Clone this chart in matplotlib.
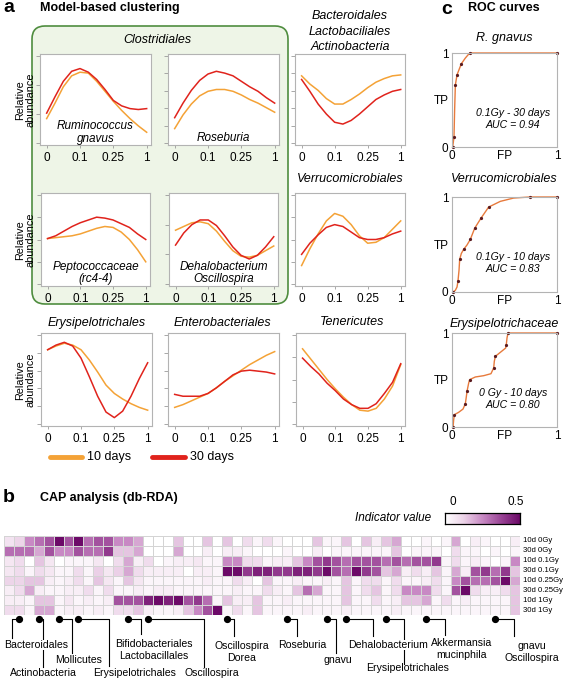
import matplotlib
matplotlib.use('Agg')
import matplotlib.pyplot as plt
import numpy as np
from matplotlib.patches import FancyBboxPatch
from matplotlib.colors import LinearSegmentedColormap
import matplotlib.transforms as mtransforms

plt.rcParams['font.family'] = ['Liberation Sans', 'DejaVu Sans']

# ---------------- data ----------------
curve_x = [0, 0.25, 0.5, 0.75, 1, 1.25, 1.5, 1.75, 2, 2.25, 2.5, 2.75, 3]
tick_labels = ['0', '0.1', '0.25', '1']

rum_10 = [0.29, 0.46, 0.64, 0.76, 0.80, 0.79, 0.70, 0.59, 0.48, 0.38, 0.29, 0.21, 0.14]
rum_30 = [0.35, 0.53, 0.70, 0.81, 0.84, 0.80, 0.72, 0.61, 0.49, 0.43, 0.40, 0.39, 0.40]
ros_10 = [0.18, 0.33, 0.45, 0.54, 0.59, 0.61, 0.61, 0.59, 0.55, 0.50, 0.46, 0.41, 0.36]
ros_30 = [0.30, 0.46, 0.60, 0.71, 0.78, 0.81, 0.79, 0.76, 0.70, 0.64, 0.59, 0.52, 0.46]
bac_10 = [0.76, 0.67, 0.60, 0.51, 0.45, 0.45, 0.50, 0.56, 0.63, 0.69, 0.73, 0.76, 0.77]
bac_30 = [0.72, 0.59, 0.45, 0.34, 0.25, 0.23, 0.27, 0.34, 0.42, 0.50, 0.55, 0.59, 0.61]
pep_10 = [0.51, 0.52, 0.53, 0.54, 0.56, 0.59, 0.62, 0.64, 0.63, 0.58, 0.50, 0.39, 0.26]
pep_30 = [0.51, 0.54, 0.59, 0.64, 0.68, 0.71, 0.74, 0.73, 0.71, 0.67, 0.63, 0.56, 0.50]
deh_10 = [0.60, 0.64, 0.68, 0.69, 0.67, 0.59, 0.48, 0.38, 0.32, 0.31, 0.33, 0.38, 0.43]
deh_30 = [0.44, 0.57, 0.66, 0.71, 0.71, 0.65, 0.54, 0.42, 0.33, 0.29, 0.33, 0.42, 0.53]
ver_10 = [0.22, 0.40, 0.56, 0.70, 0.78, 0.75, 0.66, 0.54, 0.46, 0.47, 0.52, 0.61, 0.70]
ver_30 = [0.34, 0.46, 0.55, 0.63, 0.66, 0.64, 0.58, 0.52, 0.50, 0.50, 0.52, 0.56, 0.59]
ery_10 = [0.82, 0.86, 0.89, 0.87, 0.82, 0.71, 0.58, 0.44, 0.35, 0.29, 0.24, 0.20, 0.17]
ery_30 = [0.82, 0.87, 0.90, 0.86, 0.73, 0.53, 0.32, 0.15, 0.09, 0.16, 0.32, 0.51, 0.68]
ent_10 = [0.20, 0.23, 0.27, 0.31, 0.35, 0.41, 0.48, 0.54, 0.60, 0.66, 0.71, 0.76, 0.80]
ent_30 = [0.34, 0.32, 0.32, 0.32, 0.35, 0.41, 0.48, 0.55, 0.59, 0.60, 0.59, 0.58, 0.56]
ten_10 = [0.83, 0.72, 0.61, 0.50, 0.40, 0.31, 0.23, 0.17, 0.16, 0.19, 0.29, 0.43, 0.66]
ten_30 = [0.73, 0.64, 0.56, 0.46, 0.38, 0.29, 0.23, 0.19, 0.19, 0.24, 0.35, 0.47, 0.67]

roc1_fp = [0.006, 0.013, 0.019, 0.025, 0.032, 0.048, 0.089, 0.127, 0.168, 1.0]
roc1_tp = [0.0, 0.054, 0.107, 0.393, 0.661, 0.768, 0.886, 0.946, 1.0, 1.0]
roc1_dot_fp = [0.006, 0.019, 0.032, 0.048, 0.089, 0.168, 1.0]
roc1_dot_tp = [0.0, 0.107, 0.661, 0.768, 0.886, 1.0, 1.0]

roc2_fp = [0.010, 0.032, 0.048, 0.057, 0.067, 0.073, 0.089, 0.111, 0.143, 0.175, 0.216, 0.276, 0.349, 0.460, 0.587, 0.740, 1.0]
roc2_tp = [0.0, 0.018, 0.053, 0.117, 0.230, 0.343, 0.406, 0.449, 0.495, 0.555, 0.671, 0.777, 0.894, 0.954, 0.989, 1.0, 1.0]
roc2_dot_fp = [0.010, 0.057, 0.073, 0.111, 0.175, 0.216, 0.276, 0.349, 0.740, 1.0]
roc2_dot_tp = [0.0, 0.117, 0.343, 0.449, 0.555, 0.671, 0.777, 0.894, 1.0, 1.0]

roc3_fp = [0.010, 0.016, 0.022, 0.063, 0.105, 0.127, 0.137, 0.143, 0.159, 0.168, 0.222, 0.302, 0.371, 0.397, 0.403, 0.413, 0.460, 0.511, 0.517, 0.524, 0.533, 1.0]
roc3_tp = [0.0, 0.078, 0.131, 0.156, 0.191, 0.248, 0.326, 0.379, 0.468, 0.504, 0.532, 0.546, 0.567, 0.628, 0.699, 0.752, 0.794, 0.840, 0.876, 0.947, 1.0, 1.0]
roc3_dot_fp = [0.010, 0.022, 0.127, 0.143, 0.168, 0.397, 0.413, 0.517, 0.533, 1.0]
roc3_dot_tp = [0.0, 0.131, 0.248, 0.379, 0.504, 0.628, 0.752, 0.876, 1.0, 1.0]

row_labels = ['10d 0Gy', '30d 0Gy', '10d 0.1Gy', '30d 0.1Gy',
              '10d 0.25Gy', '30d 0.25Gy', '10d 1Gy', '30d 1Gy']
iv_10d_0Gy = [0.08, 0.12, 0.25, 0.30, 0.35, 0.50, 0.35, 0.50, 0.30, 0.35, 0.35, 0.25, 0.25, 0.20, 0.0, 0.0, 0.0,
              0.15, 0.0, 0.0, 0.15, 0.0, 0.15, 0.0, 0.10, 0.03, 0.10, 0.03, 0.0, 0.0, 0.0, 0.15,
              0.03, 0.03, 0.15, 0.0, 0.15, 0.05, 0.15, 0.20, 0.0, 0.0, 0.03, 0.0, 0.03, 0.20, 0.0,
              0.05, 0.03, 0.0, 0.0, 0.05]
iv_30d_0Gy = [0.30, 0.30, 0.30, 0.20, 0.35, 0.25, 0.25, 0.35, 0.30, 0.30, 0.40, 0.15, 0.15, 0.20, 0.0, 0.0, 0.0,
              0.20, 0.0, 0.0, 0.05, 0.0, 0.05, 0.05, 0.03, 0.0, 0.0, 0.0, 0.03, 0.0, 0.0, 0.05,
              0.0, 0.03, 0.03, 0.03, 0.03, 0.03, 0.03, 0.15, 0.0, 0.03, 0.03, 0.03, 0.0, 0.10, 0.03,
              0.03, 0.0, 0.03, 0.0, 0.03]
iv_10d_01Gy = [0.07, 0.10, 0.0, 0.15, 0.07, 0.0, 0.03, 0.03, 0.03, 0.07, 0.0, 0.10, 0.20, 0.05, 0.10, 0.0, 0.03,
               0.05, 0.05, 0.07, 0.03, 0.03, 0.25, 0.25, 0.10, 0.10, 0.03, 0.05, 0.05, 0.15, 0.25, 0.35,
               0.40, 0.35, 0.30, 0.35, 0.35, 0.35, 0.30, 0.35, 0.30, 0.35, 0.35, 0.40, 0.03, 0.10, 0.03,
               0.05, 0.03, 0.0, 0.03, 0.25]
iv_30d_01Gy = [0.07, 0.10, 0.03, 0.10, 0.07, 0.03, 0.03, 0.10, 0.03, 0.13, 0.07, 0.13, 0.20, 0.10, 0.05, 0.05, 0.05,
               0.05, 0.0, 0.05, 0.05, 0.03, 0.50, 0.50, 0.40, 0.45, 0.45, 0.40, 0.40, 0.45, 0.45, 0.40,
               0.50, 0.35, 0.30, 0.50, 0.40, 0.35, 0.15, 0.20, 0.05, 0.10, 0.05, 0.15, 0.03, 0.20, 0.05,
               0.35, 0.40, 0.30, 0.40, 0.15]
iv_10d_025Gy = [0.12, 0.12, 0.15, 0.15, 0.05, 0.03, 0.05, 0.10, 0.03, 0.15, 0.07, 0.03, 0.15, 0.07, 0.03, 0.03, 0.03,
                0.03, 0.03, 0.03, 0.05, 0.03, 0.03, 0.10, 0.05, 0.0, 0.15, 0.03, 0.03, 0.05, 0.03, 0.03,
                0.05, 0.03, 0.15, 0.03, 0.10, 0.10, 0.03, 0.10, 0.03, 0.03, 0.05, 0.10, 0.03, 0.25, 0.35,
                0.30, 0.30, 0.35, 0.50, 0.20]
iv_30d_025Gy = [0.05, 0.10, 0.20, 0.05, 0.03, 0.03, 0.05, 0.05, 0.10, 0.03, 0.10, 0.03, 0.03, 0.05, 0.03, 0.05, 0.05,
                0.03, 0.03, 0.03, 0.03, 0.03, 0.03, 0.05, 0.03, 0.03, 0.10, 0.05, 0.03, 0.15, 0.30, 0.20,
                0.03, 0.03, 0.15, 0.03, 0.10, 0.15, 0.03, 0.10, 0.25, 0.25, 0.25, 0.10, 0.03, 0.35, 0.50,
                0.10, 0.05, 0.05, 0.10, 0.15]
iv_10d_1Gy = [0.05, 0.05, 0.03, 0.15, 0.15, 0.03, 0.07, 0.03, 0.05, 0.03, 0.05, 0.35, 0.35, 0.35, 0.45, 0.50, 0.45,
              0.50, 0.35, 0.40, 0.30, 0.03, 0.15, 0.05, 0.05, 0.15, 0.03, 0.03, 0.05, 0.03, 0.03, 0.03,
              0.03, 0.03, 0.15, 0.03, 0.03, 0.10, 0.03, 0.05, 0.15, 0.15, 0.20, 0.03, 0.10, 0.03, 0.05,
              0.03, 0.03, 0.03, 0.03, 0.15]
iv_30d_1Gy = [0.10, 0.10, 0.03, 0.20, 0.20, 0.03, 0.05, 0.05, 0.03, 0.05, 0.03, 0.10, 0.10, 0.15, 0.05, 0.03, 0.03,
              0.05, 0.15, 0.25, 0.35, 0.50, 0.03, 0.10, 0.03, 0.15, 0.03, 0.03, 0.03, 0.03, 0.05, 0.03,
              0.03, 0.03, 0.05, 0.03, 0.03, 0.03, 0.03, 0.05, 0.03, 0.03, 0.03, 0.03, 0.03, 0.03, 0.03,
              0.03, 0.03, 0.03, 0.03, 0.15]

marker_cols = [1, 3, 5, 7, 12, 14, 22, 28, 32, 34, 38, 42, 49]
marker_labels = ['Bacteroidales', 'Actinobacteria', 'Mollicutes', 'Erysipelotrichales',
                 'Bifidobacteriales\nLactobacillales', 'Oscillospira', 'Oscillospira\nDorea',
                 'Roseburia', 'gnavu', 'Dehalobacterium', 'Erysipelotrichales',
                 'Akkermansia\nmucinphila', 'gnavu\nOscillospira']

# ---------------- layout helpers (pixel space) ----------------
W, H = 567, 680
fig = plt.figure(figsize=(W / 100, H / 100), dpi=100)
bg = fig.add_axes([0, 0, 1, 1])
bg.set_xlim(0, W)
bg.set_ylim(H, 0)
bg.axis('off')

C10 = '#f4a236'
C30 = '#e0231c'
GREY = '#b3b3b3'


def px_axes(l, t, r, b):
    return fig.add_axes([l / W, 1 - b / H, (r - l) / W, (b - t) / H])


def txt(x, y, s, **kw):
    kw.setdefault('ha', 'center')
    kw.setdefault('va', 'center')
    return bg.text(x, y, s, **kw)


# green cluster box
box = FancyBboxPatch((32, 26), 256, 278, boxstyle='round,pad=0,rounding_size=13',
                     facecolor='#eef5e7', edgecolor='#4f8d3f', linewidth=1.2)
bg.add_patch(box)

# titles
txt(3, 8, 'a', fontsize=14, fontweight='bold', ha='left')
txt(40, 8, 'Model-based clustering', fontsize=9, fontweight='bold', ha='left')
txt(157, 40, 'Clostridiales', fontsize=9, style='italic')
txt(350, 16, 'Bacteroidales', fontsize=9, style='italic')
txt(350, 32, 'Lactobaciliales', fontsize=9, style='italic')
txt(350, 47, 'Actinobacteria', fontsize=9, style='italic')
txt(350, 179, 'Verrucomicrobiales', fontsize=9, style='italic')
txt(97, 323, 'Erysipelotrichales', fontsize=9, style='italic')
txt(222, 323, 'Enterobacteriales', fontsize=9, style='italic')
txt(352, 322, 'Tenericutes', fontsize=9, style='italic')
for yc in (100, 240, 380):
    txt(25, yc, 'Relative\nabundance', fontsize=7.8, rotation=90, linespacing=1.0)


def curve_panel(rect, y10, y30, nticks, label=None, label_y=None):
    ax = px_axes(*rect)
    ax.plot(curve_x, y10, color=C10, lw=1.1)
    ax.plot(curve_x, y30, color=C30, lw=1.1)
    ax.set_xlim(-0.2, 3.13)
    ax.set_ylim(0, 1)
    ax.set_xticks(range(4))
    ax.set_xticklabels(tick_labels, fontsize=8.5)
    ax.set_yticks(np.linspace(0.02, 0.98, nticks))
    ax.set_yticklabels([])
    for s in ax.spines.values():
        s.set_color(GREY)
        s.set_linewidth(0.8)
    ax.tick_params(axis='y', length=3, color='#9a9a9a', width=0.6)
    ax.tick_params(axis='x', length=2, color='#9a9a9a', width=0.6, pad=3)
    if label:
        ax.text(0.5, label_y, label, transform=ax.transAxes, ha='center', va='center',
                fontsize=8.5, style='italic', linespacing=1.1)
    return ax


curve_panel((40, 54, 151, 145), rum_10, rum_30, 4, 'Ruminococcus\ngnavus', 0.14)
curve_panel((168, 54, 279, 145), ros_10, ros_30, 6, 'Roseburia', 0.08)
curve_panel((295, 54, 405, 145), bac_10, bac_30, 6)
curve_panel((41, 193, 150, 286), pep_10, pep_30, 5, 'Peptococcaceae\n(rc4-4)', 0.14)
curve_panel((169, 193, 278, 286), deh_10, deh_30, 4, 'Dehalobacterium\nOscillospira', 0.14)
curve_panel((295, 193, 405, 286), ver_10, ver_30, 5)
curve_panel((41, 333, 152, 426), ery_10, ery_30, 6)
curve_panel((168, 333, 279, 426), ent_10, ent_30, 6)
curve_panel((296, 333, 405, 426), ten_10, ten_30, 5)

# legend
bg.plot([50, 82], [457, 457], color=C10, lw=3.5, solid_capstyle='round')
txt(87, 457, '10 days', fontsize=9, ha='left')
bg.plot([152, 185], [457, 457], color=C30, lw=3.5, solid_capstyle='round')
txt(190, 457, '30 days', fontsize=9, ha='left')

# ROC panels
txt(441, 9, 'c', fontsize=14, fontweight='bold', ha='left')
txt(468, 8, 'ROC curves', fontsize=9, fontweight='bold', ha='left')


def roc_panel(rect, cfp, ctp, dfp, dtp, title, title_y, note):
    ax = px_axes(*rect)
    ax.plot(cfp, ctp, color='#e77a3c', lw=1.0, clip_on=False)
    ax.plot(dfp, dtp, 'o', ms=1.3, color='#5a1a1e', clip_on=False)
    ax.set_xlim(0, 1)
    ax.set_ylim(0, 1)
    ax.set_xticks([0, 0.5, 1])
    ax.set_xticklabels(['0', 'FP', '1'])
    ax.set_yticks([0, 0.5, 1])
    ax.set_yticklabels(['0', 'TP', '1'])
    ax.tick_params(length=0, labelsize=8.5, pad=2.5)
    for s in ax.spines.values():
        s.set_color(GREY)
        s.set_linewidth(0.8)
    ax.text(0.58, 0.3, note, transform=ax.transAxes, ha='center', va='center',
            fontsize=7.6, style='italic', linespacing=1.25)
    txt(504, title_y, title, fontsize=9, style='italic')
    return ax


roc_panel((452, 53, 557, 147), roc1_fp, roc1_tp, roc1_dot_fp, roc1_dot_tp,
          'R. gnavus', 38, '0.1Gy - 30 days\nAUC = 0.94')
roc_panel((452, 197, 557, 292), roc2_fp, roc2_tp, roc2_dot_fp, roc2_dot_tp,
          'Verrucomicrobiales', 179, '0.1Gy - 10 days\nAUC = 0.83')
roc_panel((452, 333, 557, 427), roc3_fp, roc3_tp, roc3_dot_fp, roc3_dot_tp,
          'Erysipelotrichaceae', 324, '0 Gy - 10 days\nAUC = 0.80')

# ---------------- panel b: heatmap ----------------
txt(3, 497, 'b', fontsize=14, fontweight='bold', ha='left')
txt(40, 498, 'CAP analysis (db-RDA)', fontsize=9, fontweight='bold', ha='left')

cmap = LinearSegmentedColormap.from_list(
    'iv', ['#ffffff', '#ecd3e8', '#c88ac4', '#9a4596', '#6c0a68'])
mat = np.array([iv_10d_0Gy, iv_30d_0Gy, iv_10d_01Gy, iv_30d_01Gy,
                iv_10d_025Gy, iv_30d_025Gy, iv_10d_1Gy, iv_30d_1Gy])
nrow, ncol = mat.shape
axh = px_axes(4, 536, 520, 615)
axh.pcolormesh(np.arange(ncol + 1), np.arange(nrow + 1), mat, cmap=cmap, vmin=0, vmax=0.5,
               edgecolors='#d4d4d4', linewidth=0.5)
axh.set_xlim(0, ncol)
axh.set_ylim(nrow, 0)
axh.axis('off')
for i, lab in enumerate(row_labels):
    axh.text(1.006, 1 - (i + 0.5) / nrow, lab, transform=axh.transAxes,
             ha='left', va='center', fontsize=5.6)

# colorbar
axc = px_axes(445, 513, 520, 524)
axc.imshow(np.linspace(0, 0.5, 200)[None, :], aspect='auto', cmap=cmap, vmin=0, vmax=0.5,
           extent=[0, 0.5, 0, 1])
axc.set_xticks([])
axc.set_yticks([])
for s in axc.spines.values():
    s.set_color('black')
    s.set_linewidth(0.9)
txt(453, 502, '0', fontsize=8.5)
txt(516, 502, '0.5', fontsize=8.5)
txt(431, 518, 'Indicator value', fontsize=8.5, style='italic', ha='right')

# markers and connectors below heatmap
tr = mtransforms.blended_transform_factory(axh.transData, bg.transData)
elbow_x = [0.77, 3.9, 6.9, 10.6, 13.85, 20.2, 23.2, 29.5, 33.5, 37.2, 40.3, 44.4, 51.4]
end_y = [638, 667, 653, 666, 634, 667, 636, 636, 653, 636, 664, 635, 636]
label_xy = [(36, 645), (43, 673), (79, 660), (135, 673), (154, 650), (212, 673), (242, 652),
            (302, 645), (338, 660), (388, 645), (408, 668), (462, 649), (532, 652)]
masked = {'Bacteroidales', 'Dehalobacterium'}
DOT_Y = 619
for c, ex, ey, (lx, ly), lab in zip(marker_cols, elbow_x, end_y, label_xy, marker_labels):
    xc = c + 0.5
    bg.plot([xc, ex, ex], [DOT_Y, DOT_Y, ey], color='black', lw=0.8, transform=tr,
            clip_on=False, zorder=2)
    bg.plot([xc], [DOT_Y], 'o', color='black', ms=4.2, transform=tr, clip_on=False, zorder=3)
    kw = {}
    if lab in masked:
        kw['bbox'] = dict(facecolor='white', edgecolor='none', pad=0.3)
    txt(lx, ly, lab, fontsize=7.6, linespacing=1.3, zorder=4, **kw)

fig.savefig('out.png', dpi=100)
